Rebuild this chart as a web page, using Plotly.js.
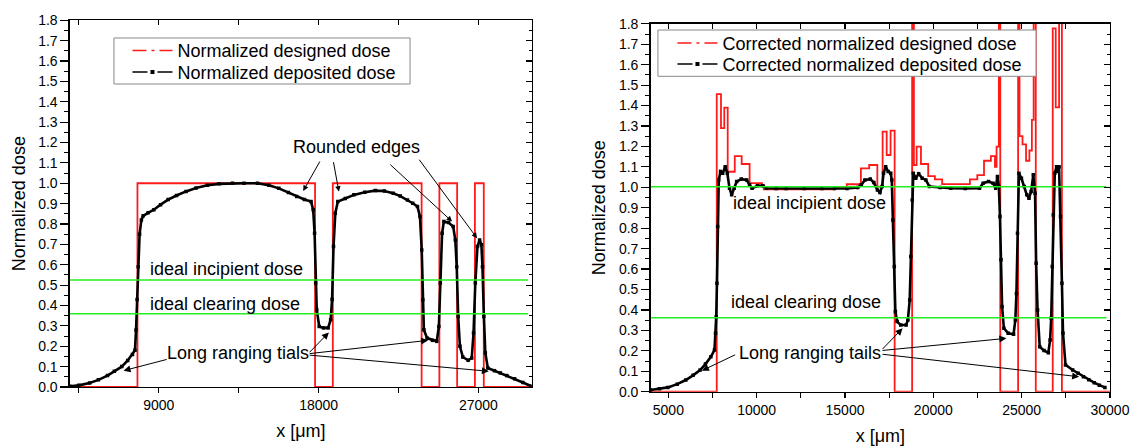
<!DOCTYPE html>
<html><head><meta charset="utf-8">
<script src="https://cdn.plot.ly/plotly-3.0.1.min.js"></script>
<style>html,body{margin:0;padding:0;background:#fff}</style>
</head><body>
<div id="chart" style="width:1134px;height:448px"></div>
<script>
// ---------- data ----------
const leftDesignedX = [4000, 7800, 17800, 18800, 23800, 24800, 25800, 26800, 27300, 30000];
const leftDesignedY = [0, 1, 0, 1, 0, 1, 0, 1, 0, 0];

const leftDepositedX = [4000,4500,5106,5600,6111,6500,6916,7250,7519,7660,7720,7780,7840,7921,8020,8122,8400,8725,9100,9530,10000,10535,11100,11741,12400,13149,13800,14556,15200,15763,16300,16768,17200,17573,17693,17774,17834,17894,18035,18276,18537,18678,18759,18840,18940,19081,19500,19985,20600,21192,21700,22198,22600,23002,23300,23565,23706,23806,23867,23927,24108,24410,24651,24772,24852,24953,25054,25315,25576,25697,25777,25858,25958,26119,26421,26622,26723,26823,26944,27065,27166,27226,27306,27387,27528,27900,28231,28600,29035,29500,30000];
const leftDepositedY = [0.003,0.008,0.02,0.035,0.056,0.077,0.10,0.13,0.16,0.18,0.28,0.43,0.59,0.75,0.82,0.84,0.855,0.87,0.895,0.92,0.94,0.96,0.977,0.99,0.997,1.0,1.0,1.0,0.99,0.975,0.955,0.935,0.92,0.91,0.87,0.755,0.51,0.38,0.297,0.29,0.29,0.33,0.43,0.69,0.853,0.91,0.925,0.943,0.956,0.964,0.962,0.951,0.937,0.918,0.902,0.886,0.837,0.673,0.428,0.281,0.24,0.229,0.224,0.297,0.51,0.755,0.812,0.807,0.788,0.722,0.59,0.346,0.2,0.147,0.131,0.142,0.265,0.51,0.69,0.722,0.698,0.59,0.346,0.167,0.093,0.08,0.069,0.056,0.041,0.022,0.003];

const rightDesignedX = [4000,7740,7980,8166,8360,8760,9150,9600,10300,10400,14400,15100,15900,16370,16830,17130,17360,17580,17810,18800,18900,19055,19300,19710,20090,20500,22070,22490,22870,23260,23490,23580,23710,23790,24800,24880,25050,25250,25440,25580,25680,25800,26760,26930,27120,27280,30000];
const rightDesignedY = [0,1.456,1.29,1.39,1.076,1.153,1.114,1.02,1.01,0.99,1.0,1.015,1.093,1.109,1.003,1.272,1.158,1.277,0,2.5,1.109,1.199,1.114,1.055,1.039,1.016,1.039,1.06,1.13,1.153,1.10,1.199,2.5,0,2.5,1.25,1.21,1.13,1.18,1.33,2.5,0,1.778,1.391,2.5,0,0];

const rightDepositedX = [4000,4500,4973,5500,5987,6400,6799,7100,7407,7610,7671,7711,7752,7792,7853,7955,8076,8218,8340,8462,8583,8725,8867,9130,9434,9597,9739,10043,10347,10550,11100,11666,12700,13694,14400,15113,15722,15925,16127,16432,16634,16837,16979,17101,17182,17304,17446,17588,17649,17710,17791,17852,17953,18156,18460,18561,18663,18724,18805,18866,19008,19170,19373,19576,19779,20386,20995,21806,22617,22820,23124,23387,23529,23630,23711,23772,23833,23894,23995,24239,24543,24644,24705,24766,24847,24989,25151,25293,25415,25537,25659,25760,25821,25902,26024,26267,26511,26612,26673,26734,26794,26875,26977,27038,27119,27200,27281,27342,27484,27890,28200,28498,28800,29107,29400,29715];
const rightDepositedY = [0.008,0.014,0.021,0.037,0.057,0.08,0.106,0.135,0.171,0.204,0.286,0.367,0.53,0.808,1.036,1.077,1.069,1.10,1.069,0.995,0.963,0.995,1.028,1.04,1.036,1.012,0.995,1.007,1.008,0.995,0.994,0.994,0.994,0.994,0.994,0.994,0.999,1.012,1.036,1.04,1.023,0.987,0.974,1.004,1.069,1.10,1.077,1.069,1.036,0.84,0.612,0.392,0.343,0.326,0.326,0.351,0.449,0.661,0.938,1.069,1.044,1.066,1.044,1.036,1.004,0.999,0.995,0.994,0.995,1.02,1.028,1.02,0.995,1.053,1.004,0.857,0.645,0.416,0.31,0.286,0.281,0.351,0.481,0.775,1.069,1.044,1.004,0.963,0.947,0.979,1.061,0.971,0.628,0.40,0.22,0.201,0.191,0.253,0.359,0.612,0.865,1.069,1.10,1.077,1.10,0.857,0.53,0.286,0.131,0.106,0.09,0.073,0.058,0.044,0.032,0.021];

const xRange = [4000, 30000];
const yRange = [0, 1.8];
const leftGreenX = [4000, 29800];
const rightGreenX = [4000, 29800];
const leftIncipient = 0.525, leftClearing = 0.36;
const rightIncipient = 1.003, rightClearing = 0.362;

const leftXTicks = [4500, 9000, 13500, 18000, 22500, 27000];
const leftXLabels = ['', '9000', '', '18000', '', '27000'];
const rightXTicks = [5000,7500,10000,12500,15000,17500,20000,22500,25000,27500,30000];
const rightXLabels = ['5000','','10000','','15000','','20000','','25000','','30000'];

const leftNames = ['Normalized designed dose', 'Normalized deposited dose'];
const rightNames = ['Corrected normalized designed dose', 'Corrected normalized deposited dose'];

// ---------- styles ----------
const RED = '#ff1a1a', GREEN = '#22ee22', BLACK = '#000';
const FONT = 'Liberation Sans, Arial, sans-serif';

function designed(x, y, xa, ya) {
  return {x, y, xaxis: xa, yaxis: ya, mode: 'lines', line: {color: RED, width: 1.8, shape: 'hv'}, showlegend: false, hoverinfo: 'skip'};
}
function deposited(x, y, xa, ya) {
  return {x, y, xaxis: xa, yaxis: ya, mode: 'lines+markers', line: {color: BLACK, width: 2.6},
    marker: {symbol: 'square', size: 3.5, color: BLACK}, showlegend: false, hoverinfo: 'skip'};
}
function green(x, v, xa, ya) {
  return {x, y: [v, v], xaxis: xa, yaxis: ya, mode: 'lines', line: {color: GREEN, width: 1.5}, showlegend: false, hoverinfo: 'skip'};
}
function legRed(name, leg, xa, ya) {
  return {x: [null], y: [null], name, legend: leg, xaxis: xa, yaxis: ya, mode: 'lines',
    line: {color: RED, width: 1.5, dash: '14px,5px,3px,5px,14px'}};
}
function legBlack(name, leg, xa, ya) {
  return {x: [null], y: [null], name, legend: leg, xaxis: xa, yaxis: ya, mode: 'lines+markers',
    line: {color: BLACK, width: 1.5, dash: '15px,10px,15px'}, marker: {symbol: 'square', size: 4, color: BLACK}};
}

const traces = [
  designed(leftDesignedX, leftDesignedY, 'x', 'y'),
  deposited(leftDepositedX, leftDepositedY, 'x', 'y'),
  green(leftGreenX, leftIncipient, 'x', 'y'),
  green(leftGreenX, leftClearing, 'x', 'y'),
  designed(rightDesignedX, rightDesignedY, 'x2', 'y2'),
  deposited(rightDepositedX, rightDepositedY, 'x2', 'y2'),
  green(rightGreenX, rightIncipient, 'x2', 'y2'),
  green(rightGreenX, rightClearing, 'x2', 'y2'),
  legRed(leftNames[0], 'legend', 'x', 'y'),
  legBlack(leftNames[1], 'legend2', 'x', 'y'),
  legRed(rightNames[0], 'legend3', 'x2', 'y2'),
  legBlack(rightNames[1], 'legend4', 'x2', 'y2'),
  {x: [null], y: [null], xaxis: 'x3', yaxis: 'y3', showlegend: false, mode: 'lines'},
  {x: [null], y: [null], xaxis: 'x4', yaxis: 'y4', showlegend: false, mode: 'lines'}
];

const tickFont = {family: FONT, size: 14, color: BLACK};
const titleFont = {family: FONT, size: 18, color: BLACK};

function baseX(domain, anchor, tv, tt) {
  return {domain, anchor, range: xRange, tickmode: 'array', tickvals: tv, ticktext: tt,
    ticks: 'outside', ticklen: 5, tickwidth: 1.2, tickcolor: BLACK, showline: true, linecolor: BLACK, linewidth: 1.5,
    showgrid: false, zeroline: false, tickfont: tickFont, title: {text: 'x [μm]', font: titleFont, standoff: 12}};
}
function baseY(domain, anchor) {
  return {domain, anchor, range: yRange, tick0: 0, dtick: 0.1, tickformat: '.1f',
    ticks: 'outside', ticklen: 8, tickwidth: 1.2, tickcolor: BLACK,
    minor: {dtick: 0.05, ticks: 'outside', ticklen: 4, tickwidth: 1, tickcolor: BLACK},
    showline: true, linecolor: BLACK, linewidth: 1.5, showgrid: false, zeroline: false,
    tickfont: tickFont, title: {text: 'Normalized dose', font: titleFont, standoff: 8}};
}
function topX(over, anchor, tv) {
  return {overlaying: over, anchor, side: 'top', range: xRange, tickmode: 'array', tickvals: tv, ticks: 'inside', ticklen: 5,
    tickwidth: 1.2, tickcolor: BLACK, showticklabels: false, showline: true, linecolor: BLACK, linewidth: 1.5,
    showgrid: false, zeroline: false};
}
function rightY(over, anchor) {
  return {overlaying: over, anchor, side: 'right', range: yRange, tick0: 0, dtick: 0.1, ticks: 'inside', ticklen: 6,
    tickwidth: 1.2, tickcolor: BLACK, minor: {dtick: 0.05, ticks: 'inside', ticklen: 3, tickwidth: 1, tickcolor: BLACK},
    showticklabels: false, showline: true, linecolor: BLACK, linewidth: 1.5, showgrid: false, zeroline: false};
}

const LD = [0.0617, 0.4689], LY = [0.1362, 0.9547];
const RD = [0.5738, 0.9788], RY = [0.1257, 0.9469];

function txt(x, y, text, xr, yr, anchor) {
  return {x, y, xref: xr, yref: yr, text, showarrow: false, xanchor: anchor || 'left', yanchor: 'middle',
    font: {family: FONT, size: 18, color: BLACK}};
}
function arr(x, y, ax, ay, xr, yr, size) {
  return {x, y, ax, ay, xref: xr, yref: yr, axref: xr, ayref: yr, text: '', showarrow: true,
    arrowhead: 2, arrowsize: size || 1.4, arrowwidth: 1, arrowcolor: BLACK, standoff: 0, startstandoff: 0};
}

const annotations = [
  txt(8384, 0.578, 'ideal incipient dose', 'x', 'y'),
  txt(8384, 0.408, 'ideal clearing dose', 'x', 'y'),
  txt(20117, 1.18, 'Rounded edges', 'x', 'y', 'center'),
  arr(17131, 0.962, 18116, 1.114, 'x', 'y', 1.1),
  arr(19141, 0.959, 18820, 1.111, 'x', 'y', 1.1),
  arr(25516, 0.812, 21956, 1.098, 'x', 'y', 1.1),
  arr(26923, 0.730, 23605, 1.123, 'x', 'y', 1.1),
  txt(13451, 0.167, 'Long ranging tials', 'x', 'y', 'center'),
  arr(7016, 0.080, 9530, 0.137, 'x', 'y'),
  arr(18578, 0.268, 17412, 0.163, 'x', 'y'),
  arr(24168, 0.229, 17412, 0.163, 'x', 'y'),
  arr(27587, 0.077, 17412, 0.157, 'x', 'y'),

  txt(8522, 0.922, 'ideal incipient dose', 'x2', 'y2'),
  txt(8421, 0.441, 'ideal clearing dose', 'x2', 'y2'),
  txt(13045, 0.191, 'Long ranging tails', 'x2', 'y2', 'center'),
  arr(6900, 0.103, 8867, 0.184, 'x2', 'y2'),
  arr(18257, 0.31, 17040, 0.201, 'x2', 'y2'),
  arr(24138, 0.261, 17040, 0.201, 'x2', 'y2'),
  arr(28255, 0.073, 17040, 0.184, 'x2', 'y2')
];

function leg(x, y) {
  return {x, y, xanchor: 'left', yanchor: 'middle', bgcolor: 'rgba(0,0,0,0)', borderwidth: 0,
    font: {family: FONT, size: 18, color: BLACK}, itemwidth: 40, tracegroupgap: 0};
}

// legend frames (boxes behind the legend entries)
const shapes = [
  {type: 'rect', xref: 'paper', yref: 'paper', x0: 0.1005, x1: 0.3616, y0: 0.8125, y1: 0.9152,
    line: {color: '#888', width: 1}, fillcolor: '#fff', layer: 'above'},
  {type: 'rect', xref: 'paper', yref: 'paper', x0: 0.5802, x1: 0.9136, y0: 0.8297, y1: 0.933,
    line: {color: '#888', width: 1}, fillcolor: '#fff', layer: 'above'}
];

const layout = {
  width: 1134, height: 448, margin: {l: 0, r: 0, t: 0, b: 0},
  paper_bgcolor: '#fff', plot_bgcolor: '#fff', font: {family: FONT, color: BLACK},
  xaxis: baseX(LD, 'y', leftXTicks, leftXLabels),
  yaxis: baseY(LY, 'x'),
  xaxis2: baseX(RD, 'y2', rightXTicks, rightXLabels),
  yaxis2: baseY(RY, 'x2'),
  xaxis3: topX('x', 'y3', leftXTicks),
  yaxis3: rightY('y', 'x3'),
  xaxis4: topX('x2', 'y4', rightXTicks),
  yaxis4: rightY('y2', 'x4'),
  legend: leg(0.1124, 0.8868),
  legend2: leg(0.1124, 0.8386),
  legend3: leg(0.593, 0.9033),
  legend4: leg(0.593, 0.8565),
  shapes,
  annotations,
  showlegend: true
};

Plotly.newPlot('chart', traces, layout, {staticPlot: true, displayModeBar: false});
</script>
</body></html>
